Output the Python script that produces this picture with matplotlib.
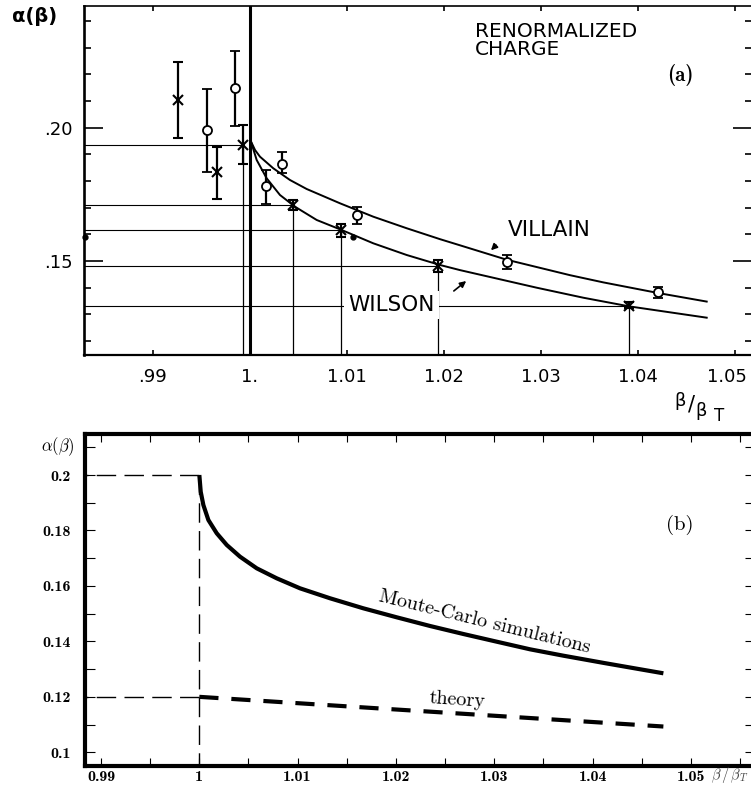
import numpy as np
import matplotlib
matplotlib.use('Agg')
import matplotlib.pyplot as plt
import matplotlib.transforms as mtransforms

plt.rcParams['mathtext.fontset'] = 'cm'
plt.rcParams['font.family'] = 'DejaVu Sans'

# ---- panel (a): scanned renormalized charge data ----
wilson_x = [0.99261, 0.99663, 0.99931, 1.00446, 1.00935, 1.01941, 1.03910]
wilson_y = [0.21039, 0.18328, 0.19351, 0.17102, 0.16164, 0.14826, 0.13326]
wilson_lo = [0.19603, 0.17327, 0.18639, 0.16914, 0.15913, 0.14601, 0.13228]
wilson_hi = [0.22475, 0.19288, 0.20101, 0.17289, 0.16389, 0.15040, 0.13476]

villain_x = [0.99554, 0.99848, 1.00162, 1.00327, 1.01100, 1.02646, 1.04209]
villain_y = [0.19914, 0.21500, 0.17825, 0.18639, 0.16727, 0.14976, 0.13828]
villain_lo = [0.18328, 0.20075, 0.17139, 0.18290, 0.16389, 0.14691, 0.13626]
villain_hi = [0.21440, 0.22887, 0.18414, 0.19100, 0.17038, 0.15227, 0.14038]

villain_curve_x = [1.00008, 1.00052, 1.00103, 1.00240, 1.00412, 1.00584, 1.00928,
                   1.01271, 1.01615, 1.01959, 1.02165, 1.02646, 1.03299, 1.03642,
                   1.04209, 1.04708]
villain_curve_y = [0.19501, 0.19164, 0.18913, 0.18478, 0.18039, 0.17702, 0.17165,
                   0.16663, 0.16230, 0.15820, 0.15590, 0.15050, 0.14470, 0.14200,
                   0.13800, 0.13480]

wilson_curve_x = [1.00008, 1.00069, 1.00172, 1.00309, 1.00464, 1.00688, 1.00945,
                  1.01271, 1.01615, 1.01959, 1.02165, 1.02956, 1.03436, 1.03910,
                  1.04708]
wilson_curve_y = [0.19501, 0.18789, 0.18103, 0.17477, 0.17038, 0.16539, 0.16164,
                  0.15665, 0.15227, 0.14852, 0.14660, 0.14000, 0.13625, 0.13300,
                  0.12876]

dot_x = [0.98300, 1.01065]
dot_y = [0.15913, 0.15913]

xticks_a = [0.99, 1.00, 1.01, 1.02, 1.03, 1.04, 1.05]
xlabels_a = ['.99', '1.', '1.01', '1.02', '1.03', '1.04', '1.05']
yticks_a = [0.15, 0.20]
ylabels_a = ['.15', '.20']

# ---- panel (b): Monte-Carlo vs theory ----
mc_x = [1.0, 1.00014, 1.00041, 1.00092, 1.00177, 1.00279, 1.00414, 1.00584,
        1.00787, 1.01024, 1.01330, 1.01668, 1.02008, 1.02347, 1.02686, 1.03025,
        1.03364, 1.03703, 1.04110, 1.04450, 1.04720]
mc_y = [0.2, 0.19398, 0.18918, 0.18377, 0.17898, 0.17476, 0.17054, 0.16635,
        0.16275, 0.15914, 0.15554, 0.15193, 0.14868, 0.14555, 0.14266, 0.13989,
        0.13714, 0.13484, 0.13225, 0.13015, 0.12849]
theory_x = [1.0, 1.0184, 1.0472]
theory_y = [0.120, 0.1158, 0.1093]

xticks_b = [0.99, 1.00, 1.01, 1.02, 1.03, 1.04, 1.05]
xlabels_b = ['0.99', '1', '1.01', '1.02', '1.03', '1.04', '1.05']
yticks_b = [0.10, 0.12, 0.14, 0.16, 0.18, 0.20]
ylabels_b = ['0.1', '0.12', '0.14', '0.16', '0.18', '0.2']

W, H = 751, 796
fig = plt.figure(figsize=(W / 100, H / 100), dpi=100)


def px(x0, y0, x1, y1):
    return [x0 / W, 1 - y1 / H, (x1 - x0) / W, (y1 - y0) / H]


# ================= (a) =================
ax1 = fig.add_axes(px(84, 6, 752, 355))
xmin_a, xmax_a = 0.98289, 1.05175
ymin_a, ymax_a = 0.11477, 0.24563
ax1.set_xlim(xmin_a, xmax_a)
ax1.set_ylim(ymin_a, ymax_a)

# projection lines from the Wilson points to the axes
ax1.hlines(wilson_y[2:], xmin_a, wilson_x[2:], color='black', lw=0.8, zorder=1)
ax1.vlines(wilson_x[2:], ymin_a, wilson_y[2:], color='black', lw=0.9, zorder=1)
ax1.axvline(1.0, color='black', lw=2.2, zorder=2)

ax1.plot(villain_curve_x, villain_curve_y, color='black', lw=1.4, zorder=3)
ax1.plot(wilson_curve_x, wilson_curve_y, color='black', lw=1.4, zorder=3)

wy = np.array(wilson_y)
vy = np.array(villain_y)
ax1.errorbar(wilson_x, wilson_y, yerr=[wy - np.array(wilson_lo), np.array(wilson_hi) - wy],
             fmt='x', color='black', ms=7, mew=1.5, elinewidth=1.6, capsize=3.6,
             capthick=1.5, zorder=5)
ax1.errorbar(villain_x, villain_y, yerr=[vy - np.array(villain_lo), np.array(villain_hi) - vy],
             fmt='o', color='black', mfc='white', ms=6.5, mew=1.3, elinewidth=1.6,
             capsize=3.6, capthick=1.5, zorder=6)
ax1.plot(dot_x, dot_y, 'o', color='black', ms=3.5, zorder=6, clip_on=False)

ax1.text(1.03082, 0.16164, 'VILLAIN', fontsize=15.5, ha='center', va='center')
ax1.text(1.01459, 0.13352, 'WILSON', fontsize=15.5, ha='center', va='center', zorder=4,
         bbox=dict(facecolor='white', edgecolor='none', pad=3))
ax1.annotate('', xy=(1.02464, 0.15330), xytext=(1.02557, 0.15668),
             arrowprops=dict(arrowstyle='-|>', color='black', lw=1.2, mutation_scale=9))
ax1.annotate('', xy=(1.02251, 0.14316), xytext=(1.02079, 0.13813),
             arrowprops=dict(arrowstyle='-|>', color='black', lw=1.2, mutation_scale=9))

ax1.text(475 / W, 1 - 22 / H, 'RENORMALIZED\nCHARGE', transform=fig.transFigure,
         fontsize=14.5, ha='left', va='top', linespacing=0.95)
ax1.text(680 / W, 1 - 75 / H, '(a)', transform=fig.transFigure, fontfamily='cmb10',
         fontsize=15, ha='center', va='center')

ax1.set_xticks(xticks_a, xlabels_a, fontsize=13)
ax1.set_yticks(yticks_a, ylabels_a, fontsize=13)
ax1.set_xticks(np.arange(0.99, 1.051, 0.01), minor=True)
ax1.set_yticks(np.arange(0.12, 0.241, 0.01), minor=True)
ax1.tick_params(which='both', direction='in', top=True, right=True, color='black')
ax1.tick_params(axis='x', which='both', length=3.6, width=1.2, pad=9)
ax1.tick_params(axis='y', which='major', length=14, width=1.2, pad=8)
ax1.tick_params(axis='y', which='minor', length=5, width=1.2)
ax1.spines['left'].set_linewidth(1.9)
ax1.spines['bottom'].set_linewidth(1.6)
ax1.spines['top'].set_linewidth(1.2)
ax1.spines['right'].set_linewidth(1.4)
# the last label sits a little left of its tick in the scan
last = ax1.get_xticklabels()[-1]
last.set_transform(last.get_transform()
                   + mtransforms.ScaledTranslation(-8 / 100, 0, fig.dpi_scale_trans))

fig.text(35 / W, 1 - 17 / H, 'α(β)', fontsize=14, fontweight='bold', ha='center', va='center')
fig.text(680 / W, 1 - 401 / H, 'β', fontsize=13, ha='center', va='center')
fig.text(691 / W, 1 - 405 / H, '/', fontsize=15, ha='center', va='center')
fig.text(701 / W, 1 - 411 / H, 'β', fontsize=13, ha='center', va='center')
fig.text(719 / W, 1 - 416 / H, 'T', fontsize=12, ha='center', va='center')

# ================= (b) =================
ax2 = fig.add_axes(px(85, 434, 755, 766))
xmin_b, xmax_b = 0.98837, 1.05652
ymin_b, ymax_b = 0.09506, 0.21479
ax2.set_xlim(xmin_b, xmax_b)
ax2.set_ylim(ymin_b, ymax_b)

ax2.plot([1.0, xmin_b], [0.2, 0.2], color='black', lw=1.0, ls=(0, (14, 6)))
ax2.plot([1.0, xmin_b], [0.12, 0.12], color='black', lw=1.0, ls=(0, (14, 6)))
ax2.plot([1.0, 1.0], [0.2, ymin_b], color='black', lw=1.0, ls=(0, (14, 6)))

ax2.plot(mc_x, mc_y, color='black', lw=3.0, solid_capstyle='butt', solid_joinstyle='round')
ax2.plot(theory_x, theory_y, color='black', lw=3.0, ls=(0, (4.6, 3.1)))

ax2.text(1.02906, 0.14710, 'Moute-Carlo simulations', fontfamily='cmr10', fontsize=14.5,
         rotation=-13.8, rotation_mode='anchor', ha='center', va='center')
ax2.text(1.02623, 0.11886, 'theory', fontfamily='cmr10', fontsize=14.5,
         rotation=-4, rotation_mode='anchor', ha='center', va='center')
ax2.text(680 / W, 1 - 525 / H, '(b)', transform=fig.transFigure, fontfamily='cmr10',
         fontsize=15, ha='center', va='center')

ax2.set_xticks(xticks_b, xlabels_b, fontfamily='cmb10', fontsize=11.5)
ax2.set_yticks(yticks_b, ylabels_b, fontfamily='cmb10', fontsize=11.5)
ax2.set_xticks(np.arange(0.995, 1.056, 0.01), minor=True)
ax2.set_yticks(np.arange(0.11, 0.215, 0.02), minor=True)
ax2.tick_params(which='both', direction='in', top=True, right=True, color='black', width=0.8)
ax2.tick_params(axis='x', which='both', length=6, pad=3)
ax2.tick_params(axis='y', which='both', length=7, pad=10)
for s in ax2.spines.values():
    s.set_linewidth(3.0)

fig.text(58 / W, 1 - 447 / H, r'$\alpha(\beta)$', fontsize=12, ha='center', va='center')
fig.text(711 / W, 1 - 775 / H, r'$\beta\,/\,\beta_T$', fontsize=10.5, color='#444444',
         ha='left', va='center')

fig.savefig('out.png', dpi=100)
